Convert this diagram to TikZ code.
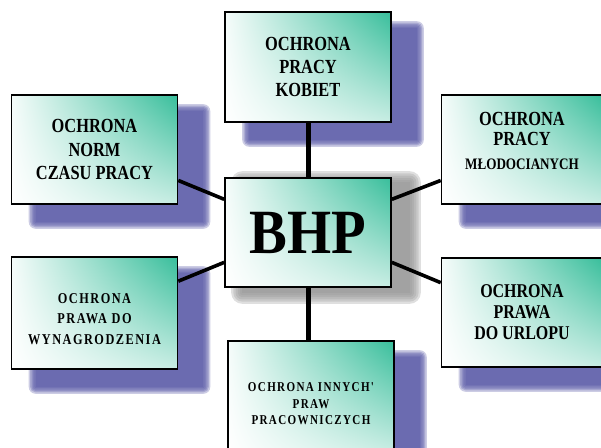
\documentclass[tikz,border=0pt]{standalone}
\usepackage{fontspec}
\newfontfamily\boxfont[FakeStretch=0.82]{Liberation Serif}
\newfontfamily\spacedfont[FakeStretch=0.82,LetterSpace=10]{Liberation Serif}
\newfontfamily\bigfont[FakeStretch=0.9]{Liberation Serif}
\usetikzlibrary{calc,shadings,backgrounds}

% rozmyty cien pod ramka
\newcommand{\cien}[5]{%
  \foreach \r in {#5,0.8*#5,0.6*#5,0.4*#5,0.2*#5,0}
    \fill[#2,opacity=0.3,rounded corners=\r pt]
      ($(#1.north west)+(#3-\r,#4-\r)$) rectangle ($(#1.south east)+(#3+\r,#4+\r)$);}
% tekst przesuniety w pionie
\newcommand{\napis}[2]{\raisebox{#1}[\height][\depth]{\begin{tabular}{@{}c@{}}#2\end{tabular}}}

\begin{document}
\begin{tikzpicture}[x=1pt,y=-1pt,
    caja/.style={draw=black,line width=1.6pt,
      upper right=morski,upper left=morski!5!white,lower left=white,lower right=morski!28!white,
      minimum width=166pt,minimum height=110pt,inner sep=0pt,align=center,
      font=\boxfont\bfseries\fontsize{20}{23}\selectfont},
    linia/.style={line width=3.6pt,black}]
    %kolory
    \definecolor{morski}{RGB}{56,190,155}
    \definecolor{fiolet}{RGB}{87,87,165}
    \definecolor{szary}{RGB}{150,150,150}

    \useasboundingbox (0,0) rectangle (601,447);

    % ramki
    \node[caja] (kobiet) at (308,67) {OCHRONA\\PRACY\\KOBIET};
    \node[caja,minimum height=109pt,font=\boxfont\bfseries\fontsize{20}{23.5}\selectfont] (norm) at (94.5,149.5)
      {OCHRONA\\NORM\\CZASU PRACY};
    \node[caja,minimum width=161pt,minimum height=109pt,font=\boxfont\bfseries\fontsize{20}{20}\selectfont] (mlod) at (522,149.5)
      {\napis{6pt}{OCHRONA\\PRACY\\[3.6pt]{\fontsize{16}{18}\selectfont MŁODOCIANYCH}}};
    \node[caja,minimum height=109pt,font=\bigfont\bfseries\fontsize{63}{63}\selectfont] (bhp) at (308,232.5) {BHP};
    \node[caja,minimum height=112pt,font=\spacedfont\bfseries\fontsize{15}{20.5}\selectfont] (wyn) at (94.5,313)
      {\napis{-6.4pt}{OCHRONA\\PRAWA DO\\WYNAGRODZENIA}};
    \node[caja,minimum width=161pt,minimum height=109pt,font=\boxfont\bfseries\fontsize{19.5}{21}\selectfont] (urlop) at (522,312.5)
      {OCHRONA\\PRAWA\\DO URLOPU};
    \node[caja,font=\spacedfont\bfseries\fontsize{13.5}{16.5}\selectfont] (inne) at (311,396)
      {\napis{-8.7pt}{OCHRONA INNYCH'\\PRAW\\PRACOWNICZYCH}};

    \begin{scope}[on background layer]
        % cienie
        \foreach \n in {kobiet,norm,mlod,wyn,urlop,inne}
            \cien{\n}{fiolet}{25}{17}{7};
        \cien{bhp}{szary}{18}{5}{11}
        % linie
        \draw[linia,line width=5pt] (kobiet.south) -- (bhp.north);
        \draw[linia,line width=5pt] (bhp.south) -- (bhp.south |- inne.north);
        \draw[linia] ($(norm.north east)!0.78!(norm.south east)$) -- ($(bhp.north west)!0.2!(bhp.south west)$);
        \draw[linia] ($(wyn.north east)!0.22!(wyn.south east)$) -- ($(bhp.north west)!0.77!(bhp.south west)$);
        \draw[linia] ($(mlod.north west)!0.78!(mlod.south west)$) -- ($(bhp.north east)!0.2!(bhp.south east)$);
        \draw[linia] ($(urlop.north west)!0.23!(urlop.south west)$) -- ($(bhp.north east)!0.77!(bhp.south east)$);
    \end{scope}
\end{tikzpicture}
\end{document}
